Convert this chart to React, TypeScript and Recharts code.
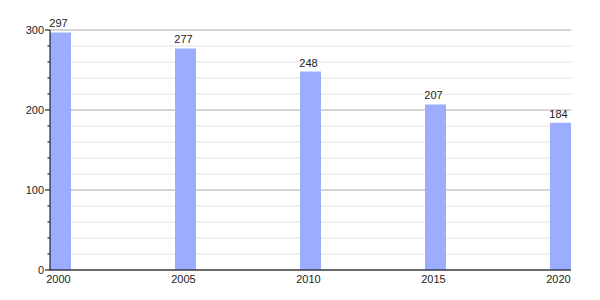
import { BarChart, Bar, XAxis, YAxis, CartesianGrid, LabelList } from "recharts";

const years = [2000, 2005, 2010, 2015, 2020];
const counts = [297, 277, 248, 207, 184];
const yTicks = [0, 20, 40, 60, 80, 100, 120, 140, 160, 180, 200, 220, 240, 260, 280, 300];
const majorTicks = [0, 100, 200, 300];
const minorTicks = yTicks.filter((v) => !majorTicks.includes(v));

const data = years.map((year, i) => ({ year, count: counts[i] }));

const font = '"Liberation Sans", Arial, sans-serif';

function YTick(props: any) {
  const { x, y, payload } = props;
  const major = majorTicks.includes(payload.value);
  return (
    <g>
      <line x1={x - (major ? 5 : 2.5)} x2={x} y1={y} y2={y} stroke="#000" />
      {major && (
        <text x={x - 6} y={y} dy="0.4em" textAnchor="end" fontSize={11} fill="#222" fontFamily={font}>
          {payload.value}
        </text>
      )}
    </g>
  );
}

export default function App() {
  return (
    <div style={{ width: 584, height: 284 }}>
      <BarChart
        width={584}
        height={284}
        data={data}
        margin={{ top: 22, right: 21, left: 0, bottom: 0 }}
      >
        <CartesianGrid vertical={false} stroke="#e2e2e2" horizontalValues={minorTicks} />
        <CartesianGrid vertical={false} stroke="#aaaaaa" horizontalValues={majorTicks} />
        <XAxis
          dataKey="year"
          type="number"
          domain={[1999.58, 2020.42]}
          ticks={years}
          height={22}
          tickLine={false}
          tickSize={5}
          tickMargin={0}
          axisLine={{ stroke: "#000" }}
          tick={{ fill: "#222", fontSize: 11, fontFamily: font, dx: -2 }}
        />
        <YAxis
          domain={[0, 300]}
          ticks={yTicks}
          interval={0}
          width={42}
          tickLine={false}
          tickSize={0}
          tickMargin={0}
          axisLine={{ stroke: "#000" }}
          tick={<YTick />}
        />
        <Bar dataKey="count" fill="#9cadff" barSize={21} isAnimationActive={false}>
          <LabelList
            dataKey="count"
            position="top"
            offset={5}
            fill="#222"
            fontSize={11}
            fontFamily={font}
            dx={-2}
          />
        </Bar>
      </BarChart>
    </div>
  );
}
